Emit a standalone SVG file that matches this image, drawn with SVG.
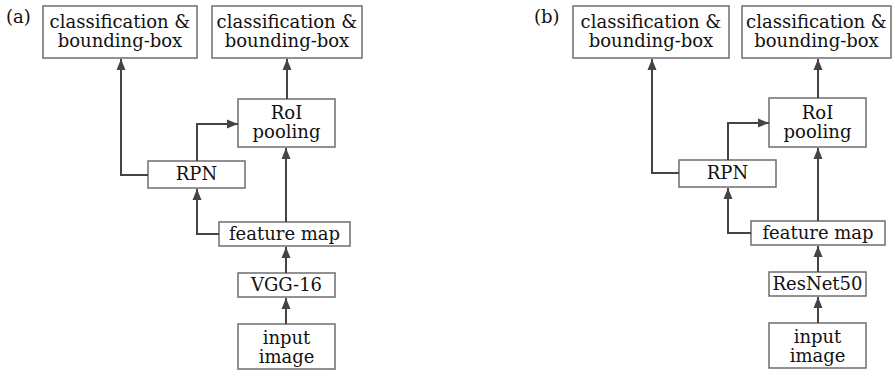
<svg xmlns="http://www.w3.org/2000/svg" width="893" height="374" viewBox="0 0 893 374">
<style>
.box{fill:#fff;stroke:#6e6e6e;stroke-width:1.5}
.t{font-family:"DejaVu Serif","Liberation Serif",serif;font-size:18px;fill:#111;text-anchor:middle}
.lbl{font-family:"DejaVu Serif","Liberation Serif",serif;font-size:18px;fill:#111}
.c{fill:none;stroke:#444;stroke-width:2;marker-end:url(#ah)}
</style>
<defs>
<marker id="ah" markerUnits="userSpaceOnUse" markerWidth="12" markerHeight="12" viewBox="0 0 12 12" refX="11" refY="6" orient="auto">
<path d="M0,1.5 L11,6 L0,10.5 Z" fill="#444"/>
</marker>
</defs>
<rect width="893" height="374" fill="#fff"/>
<text class="lbl" x="6" y="23">(a)</text>
<text class="lbl" x="534" y="23">(b)</text>
<g id="a-cls1"><rect class="box" x="43" y="6" width="154" height="52"/><text class="t" x="120" y="28">classification &amp;</text><text class="t" x="120" y="47">bounding-box</text></g>
<g id="a-cls2"><rect class="box" x="212" y="6" width="150" height="52"/><text class="t" x="287" y="28">classification &amp;</text><text class="t" x="287" y="47">bounding-box</text></g>
<g id="a-roi"><rect class="box" x="238" y="99" width="97" height="48"/><text class="t" x="286.5" y="119">RoI</text><text class="t" x="286.5" y="138">pooling</text></g>
<g id="a-rpn"><rect class="box" x="148" y="161" width="97" height="27"/><text class="t" x="196.5" y="180">RPN</text></g>
<g id="a-fm"><rect class="box" x="219" y="222" width="131" height="24"/><text class="t" x="284.5" y="240">feature map</text></g>
<g id="a-vgg"><rect class="box" x="238" y="273" width="97" height="24"/><text class="t" x="286.5" y="291">VGG-16</text></g>
<g id="a-in"><rect class="box" x="238" y="324" width="97" height="45"/><text class="t" x="286.5" y="344">input</text><text class="t" x="286.5" y="363">image</text></g>
<g id="b-cls1"><rect class="box" x="573" y="6" width="156" height="52"/><text class="t" x="651" y="28">classification &amp;</text><text class="t" x="651" y="47">bounding-box</text></g>
<g id="b-cls2"><rect class="box" x="742" y="6" width="149" height="52"/><text class="t" x="816.5" y="28">classification &amp;</text><text class="t" x="816.5" y="47">bounding-box</text></g>
<g id="b-roi"><rect class="box" x="769" y="98" width="97" height="49"/><text class="t" x="817.5" y="119">RoI</text><text class="t" x="817.5" y="138">pooling</text></g>
<g id="b-rpn"><rect class="box" x="679" y="160" width="97" height="27"/><text class="t" x="727.5" y="179">RPN</text></g>
<g id="b-fm"><rect class="box" x="751" y="221" width="134" height="24"/><text class="t" x="818" y="239">feature map</text></g>
<g id="b-res"><rect class="box" x="769" y="272" width="97" height="24"/><text class="t" x="817.5" y="290">ResNet50</text></g>
<g id="b-in"><rect class="box" x="769" y="323" width="97" height="45"/><text class="t" x="817.5" y="343">input</text><text class="t" x="817.5" y="362">image</text></g>
<g id="connectors">
<path class="c" d="M148,175 H121 V59"/>
<path class="c" d="M197,161 V124 H238"/>
<path class="c" d="M287,99 V59"/>
<path class="c" d="M286,222 V148"/>
<path class="c" d="M219,234 H197 V189"/>
<path class="c" d="M286,273 V247"/>
<path class="c" d="M286,324 V298"/>
<path class="c" d="M679,173 H652 V59"/>
<path class="c" d="M728,160 V123 H769"/>
<path class="c" d="M818,98 V59"/>
<path class="c" d="M818,221 V148"/>
<path class="c" d="M751,233 H728 V188"/>
<path class="c" d="M818,272 V246"/>
<path class="c" d="M818,323 V297"/>
</g>
</svg>
